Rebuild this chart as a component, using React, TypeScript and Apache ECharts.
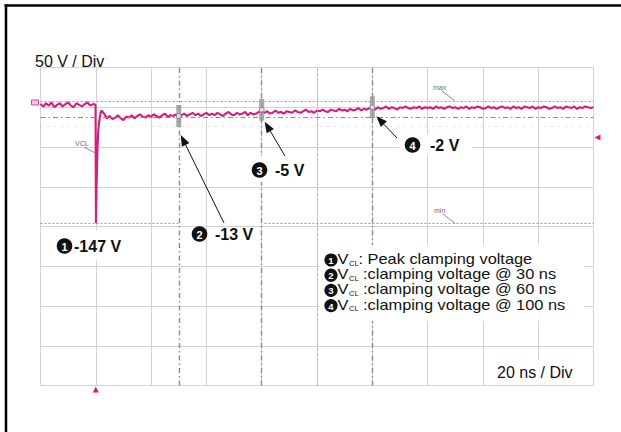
import React, { useEffect, useRef } from "react";
import * as echarts from "echarts";

// Graticule: 20 ns / div (time relative to the clamping spike), 50 V / div
const timeMin = -20;
const timeMax = 180;
const timeDiv = 20;
const voltMin = -352;
const voltMax = 48;
const voltDiv = 50;

const sampleNs = 1;
const preSpikeStart = -20;
const preSpikeV = [2, -1, 3, 0, 4, -2, 1, 3, -1, 2, 4, 0, -2, 3, 1, -1, 2, 4, 0, 2];
const spikeT = [-0.1, 0.05, 0.3, 0.6, 0.9, 1.3, 1.7];
const spikeV = [1, -148, -100, -55, -30, -18, -10];
const postSpikeStart = 2;
const postSpikeV = [
  -6, -10, -16, -13, -17, -15, -12, -16, -18, -14,
  -15, -12, -16, -13, -11, -14, -15, -12, -14, -11,
  -13, -15, -12, -10, -14, -12, -13, -11, -13, -12,
  -10, -13, -11, -9, -12, -10, -13, -11, -9, -12,
  -10, -12, -9, -11, -13, -10, -8, -11, -12, -9,
  -11, -10, -8, -12, -9, -11, -10, -8, -8, -9,
  -7, -10, -9, -6, -9, -8, -10, -7, -8, -9,
  -6, -8, -9, -7, -5, -8, -7, -9, -6, -7,
  -5, -7, -8, -5, -6, -7, -4, -6, -5, -7,
  -4, -6, -5, -3, -6, -4, -5, -3, -4, -5,
  -2, -4, -3, -1, -4, -2, -3, -5, -2, -3,
  -1, -3, -4, -2, -3, -1, -4, -2, -3, -2,
  -4, -1, -3, -2, -4, -2, -1, -3, -2, -4,
  -2, -3, -1, -4, -2, -3, -1, -2, -4, -3,
  -1, -3, -2, -4, -2, -1, -3, -2, -4, -1,
  -3, -2, -4, -1, -2, -3, -1, -4, -2, -3,
  -1, -2, -4, -3, -1, -3, -2, -4, -1, -2,
  -3, -1, -4, -2, -3, -1, -2, -3, -2,
];

// Cursors and measurement levels
const cursorTimes = [30, 60, 100];
const cursorVolts = [-13, -5, -2];
const cursorNums = ["2", "3", "4"];
const cursorLabels = ["-13 V", "-5 V", "-2 V"];
const peakNum = "1";
const peakLabel = "-147 V";
const centerTime = 80;
const maxLevel = 6;
const minLevel = -148;
const refLevel = -14;
const faintLevel = -26;
const triggerLevel = -40;
const channelLevel = 4;

const legendNums = ["1", "2", "3", "4"];
const legendSymbol = "V";
const legendSub = "CL";
const legendTexts = [
  ": Peak clamping voltage",
  " :clamping voltage @ 30 ns",
  " :clamping voltage @ 60 ns",
  " :clamping voltage @ 100 ns",
];
const voltScaleText = "50 V / Div";
const timeScaleText = "20 ns / Div";

const FONT = "'Liberation Sans', Arial, Helvetica, sans-serif";
const PINK = "#d81b7d";

export default function App() {
  const ref = useRef<HTMLDivElement>(null);
  useEffect(() => {
    const chart = echarts.init(ref.current!, undefined, { renderer: "svg" });
    const trace: number[][] = [
      ...preSpikeV.map((v, i) => [preSpikeStart + i * sampleNs, v]),
      ...spikeT.map((t, i) => [t, spikeV[i]]),
      ...postSpikeV.map((v, i) => [postSpikeStart + i * sampleNs, v]),
    ];
    const cursors = cursorTimes.map((t, i) => [t, cursorVolts[i]]);
    const dashDot = [5, 3, 1.5, 3];
    const gridLine = { color: "#d2d2d2", width: 1 };
    const minStyle = { type: [2, 2], color: "#9c9c9c", width: 1 };

    chart.setOption({
      animation: false,
      grid: { left: 40.5, top: 67.5, width: 553, height: 318, show: false },
      xAxis: {
        type: "value", min: timeMin, max: timeMax, interval: timeDiv,
        axisLine: { show: false }, axisTick: { show: false }, axisLabel: { show: false },
        splitLine: { show: true, lineStyle: gridLine },
      },
      yAxis: {
        type: "value", min: voltMin, max: voltMax, interval: voltDiv,
        axisLine: { show: false }, axisTick: { show: false }, axisLabel: { show: false },
        splitLine: { show: true, lineStyle: gridLine },
      },
      series: [
        {
          type: "line", data: trace, showSymbol: false, symbol: "none", z: 3,
          lineStyle: { color: PINK, width: 2.1 },
          markLine: {
            silent: true, symbol: "none", label: { show: false }, animation: false,
            data: [
              ...cursorTimes.map((t) => ({ xAxis: t, lineStyle: { type: dashDot, color: "#8a8a8a", width: 1.4 } })),
              { xAxis: centerTime, lineStyle: { type: [2, 3], color: "#b0b0b0", width: 1 } },
              { yAxis: maxLevel, lineStyle: { type: [2, 2], color: "#a0a0a0", width: 1 } },
              { yAxis: refLevel, lineStyle: { type: dashDot, color: "#8a8a8a", width: 1.2 } },
              { yAxis: faintLevel, lineStyle: { type: [1, 6], color: "#c4c4c4", width: 1 } },
              [
                { coord: [timeMin, minLevel], lineStyle: minStyle },
                { coord: [cursorTimes[0] + 0.5, minLevel], lineStyle: minStyle },
              ],
              [
                { coord: [cursorTimes[1] + 1, minLevel], lineStyle: minStyle },
                { coord: [timeMax, minLevel], lineStyle: minStyle },
              ],
            ],
          },
        },
        {
          type: "scatter", data: cursors, symbol: "rect", symbolSize: [5, 22], z: 6, silent: true,
          itemStyle: { color: "#969696" },
        },
        {
          type: "scatter", data: cursors, symbol: "circle", symbolSize: 5, z: 7, silent: true,
          itemStyle: { color: "#f0f0f0", borderColor: "#707070", borderWidth: 1 },
        },
      ],
    });

    const px = (t: number, v: number) => chart.convertToPixel({ seriesIndex: 0 }, [t, v]) as number[];
    const Z = 20;
    const g: any[] = [];
    const box = (x: number, y: number, w: number, h: number) =>
      g.push({ type: "rect", z: Z, shape: { x, y, width: w, height: h }, style: { fill: "#fff" } });
    const arrow = (x1: number, y1: number, x2: number, y2: number) => {
      const a = Math.atan2(y2 - y1, x2 - x1);
      const L = 11, W = 4.2;
      const bx = x2 - L * Math.cos(a), by = y2 - L * Math.sin(a);
      g.push({ type: "line", z: Z + 1, shape: { x1, y1, x2: bx, y2: by }, style: { stroke: "#111", lineWidth: 1 } });
      g.push({
        type: "polygon", z: Z + 1,
        shape: { points: [[x2, y2], [bx + W * Math.sin(a), by - W * Math.cos(a)], [bx - W * Math.sin(a), by + W * Math.cos(a)]] },
        style: { fill: "#111" },
      });
    };
    const txt = (x: number, y: number, text: string, font: string, extra: any = {}) =>
      g.push({
        type: "text", z: Z + 2, x, y, ...extra,
        style: { text, font, fill: "#111", align: "left", verticalAlign: "middle" },
      });
    // black disc with a white numeral (the ❶❷❸❹ badges)
    const badge = (cx: number, cy: number, r: number, num: string, size: number) => {
      g.push({ type: "circle", z: Z + 2, shape: { cx, cy, r }, style: { fill: "#111" } });
      g.push({
        type: "text", z: Z + 3, x: cx, y: cy + 0.5,
        style: { text: num, font: `bold ${size}px ${FONT}`, fill: "#fff", align: "center", verticalAlign: "middle" },
      });
    };
    const label = (cx: number, cy: number, num: string, tx: number, t: string) => {
      badge(cx, cy, 7.8, num, 11);
      txt(tx, cy, t, `bold 16px ${FONT}`);
    };

    // frame lines
    g.push({ type: "line", z: Z, shape: { x1: 4.5, y1: 5.5, x2: 621, y2: 5.5 }, style: { stroke: "#000", lineWidth: 2.5 } });
    g.push({ type: "line", z: Z, shape: { x1: 6, y1: 4.5, x2: 6, y2: 432 }, style: { stroke: "#000", lineWidth: 2.5 } });

    // scale captions
    txt(35, 61, voltScaleText, `16px ${FONT}`);
    box(492, 360, 94, 24);
    txt(497, 372, timeScaleText, `16px ${FONT}`);

    // peak label
    box(50, 230, 84, 30);
    label(64.5, 246, peakNum, 74, peakLabel);

    // cursor labels and arrows
    const c = cursors.map(([t, v]) => px(t, v));
    label(199.5, 234, cursorNums[0], 215, cursorLabels[0]);
    arrow(224, 223, c[0][0] + 2, c[0][1] + 19);
    box(248, 156, 58, 26);
    label(259.5, 170, cursorNums[1], 275, cursorLabels[1]);
    arrow(285, 156, c[1][0] + 3, c[1][1] + 12);
    box(399, 134, 73, 21);
    label(412.5, 145, cursorNums[2], 430, cursorLabels[2]);
    arrow(397, 138, c[2][0] + 4, c[2][1] + 9);

    // legend
    box(320, 245, 265, 76);
    const legendY = [259, 274.2, 289.4, 304.6];
    const sx = { scaleX: 1.17 };
    legendNums.forEach((n, i) => {
      const y = legendY[i];
      badge(331, y + 1, 6.6, n, 9.5);
      txt(337.5, y, legendSymbol, `14px ${FONT}`, sx);
      txt(349, y + 4, legendSub, `7.5px ${FONT}`);
      txt(358.5, y, legendTexts[i], `14px ${FONT}`, sx);
    });

    // scope tags
    const tag = (x: number, y: number, t: string, lx: number, ly: number) => {
      g.push({ type: "text", z: Z, x, y, style: { text: t, font: `7px ${FONT}`, fill: "#6a6a6a", align: "left", verticalAlign: "middle" } });
      g.push({ type: "line", z: Z, shape: { x1: x + 9, y1: y + 4, x2: lx, y2: ly }, style: { stroke: "#7a7a7a", lineWidth: 0.9 } });
    };
    const sp = px(0, -60);
    tag(75, 143, "VCL", sp[0], sp[1]);
    const mx = px(timeMin, maxLevel);
    tag(433, 87, "max", 455, mx[1]);
    const mn = px(timeMin, minLevel);
    tag(434, 210, "min", 455, mn[1]);

    // channel marker, trigger markers
    const ch = px(timeMin, channelLevel);
    g.push({ type: "rect", z: Z, shape: { x: ch[0] - 9, y: ch[1] - 2.5, width: 7, height: 5 }, style: { fill: "#f5cde1", stroke: PINK, lineWidth: 0.8 } });
    const tr = px(0, voltMin);
    g.push({ type: "polygon", z: Z, shape: { points: [[tr[0], tr[1] + 1], [tr[0] - 3, tr[1] + 7], [tr[0] + 3, tr[1] + 7]] }, style: { fill: PINK } });
    const tl = px(timeMax, triggerLevel);
    g.push({ type: "polygon", z: Z, shape: { points: [[tl[0] + 1, tl[1]], [tl[0] + 7, tl[1] - 3], [tl[0] + 7, tl[1] + 3]] }, style: { fill: PINK } });

    chart.setOption({ graphic: g });
    return () => chart.dispose();
  }, []);
  return <div ref={ref} style={{ position: "fixed", left: 0, top: 0, width: 621, height: 432, background: "#fff" }} />;
}
